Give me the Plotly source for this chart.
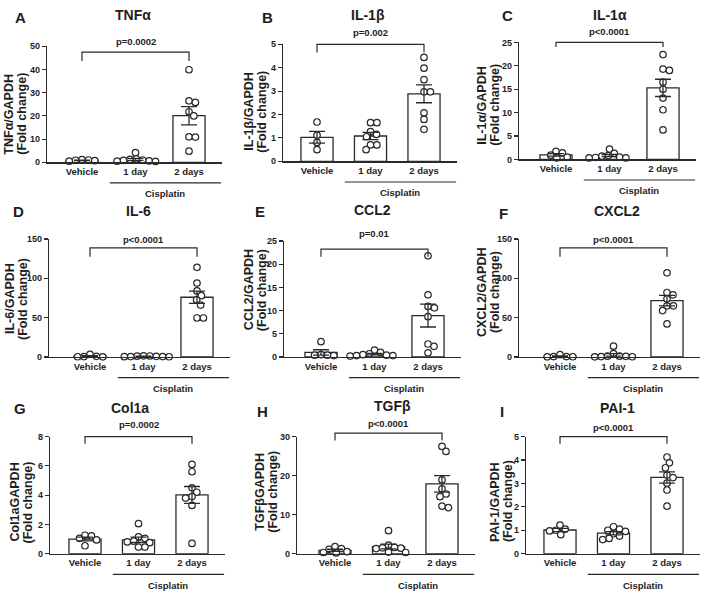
import numpy as np
import plotly.graph_objects as go

W, H = 705, 597

# ---------------- data ----------------
categories = ["Vehicle", "1 day", "2 days"]
group_label = "Cisplatin"

panel_letters = ["A", "B", "C", "D", "E", "F", "G", "H", "I"]
panel_titles = ["TNFα", "IL-1β", "IL-1α", "IL-6", "CCL2", "CXCL2", "Col1a", "TGFβ", "PAI-1"]
y_titles = ["TNFα/GAPDH", "IL-1β/GAPDH", "IL-1α/GAPDH", "IL-6/GAPDH", "CCL2/GAPDH",
            "CXCL2/GAPDH", "Col1aGAPDH", "TGFβGAPDH", "PAI-1/GAPDH"]
y_title_line2 = "(Fold change)"
p_values = ["p=0.0002", "p=0.002", "p<0.0001", "p<0.0001", "p=0.01", "p<0.0001",
            "p=0.0002", "p<0.0001", "p<0.0001"]
y_max = [50, 5, 25, 150, 25, 150, 8, 30, 5]
y_step = [10, 1, 5, 50, 5, 50, 2, 10, 1]

tnfa_vehicle = [1.2, 1.0, 0.9, 0.7, 0.5]
tnfa_1day = [4.2, 1.5, 1.3, 1.0, 0.8, 0.6, 0.5, 0.4]
tnfa_2days = [39.9, 26.5, 25.8, 21.8, 20.0, 11.0, 10.9, 4.8]

il1b_vehicle = [1.68, 1.12, 0.81, 0.50]
il1b_1day = [1.65, 1.65, 1.27, 1.15, 1.05, 0.70, 0.70, 0.50]
il1b_2days = [4.44, 3.98, 3.49, 2.97, 2.97, 2.07, 1.79, 1.37]

il1a_vehicle = [1.7, 1.4, 0.9, 0.5, 0.3]
il1a_1day = [2.2, 1.3, 0.8, 0.7, 0.5, 0.4, 0.3, 0.3]
il1a_2days = [22.4, 19.3, 19.0, 16.5, 15.0, 13.1, 10.6, 6.3]

il6_vehicle = [3.4, 0.8, 0.5, 0.3, 0.2]
il6_1day = [1.5, 1.3, 1.0, 0.8, 0.6, 0.5, 0.4, 0.3]
il6_2days = [114, 94, 84, 78, 72.5, 66, 49.6, 49.6]

ccl2_vehicle = [3.3, 0.5, 0.4, 0.4, 0.3]
ccl2_1day = [1.5, 1.0, 0.7, 0.5, 0.4, 0.3, 0.3, 0.2]
ccl2_2days = [21.8, 13.4, 10.9, 10.6, 8.7, 2.8, 2.3, 0.9]

cxcl2_vehicle = [2.9, 0.5, 0.5, 0.3, 0.2]
cxcl2_1day = [13.8, 4.2, 1.0, 1.0, 0.8, 0.5, 0.3, 0.2]
cxcl2_2days = [107, 82, 79, 74, 65, 65, 59, 42]

col1a_vehicle = [1.26, 1.21, 1.05, 0.94, 0.54]
col1a_1day = [2.05, 1.15, 1.05, 0.85, 0.80, 0.75, 0.45, 0.45]
col1a_2days = [6.1, 5.6, 4.5, 4.2, 3.9, 3.8, 3.3, 0.7]

tgfb_vehicle = [1.8, 1.3, 1.1, 0.5, 0.3, 0.2]
tgfb_1day = [5.9, 2.2, 1.6, 1.5, 1.4, 1.3, 0.4, 0.3]
tgfb_2days = [27.5, 26.2, 18.9, 16.6, 15.3, 14.6, 12.2, 11.8]

pai1_vehicle = [1.22, 1.05, 1.0, 0.97, 0.81]
pai1_1day = [1.15, 1.05, 1.0, 0.95, 0.85, 0.75, 0.65, 0.6]
pai1_2days = [4.13, 3.88, 3.67, 3.36, 3.25, 3.01, 2.72, 2.03]

panel_data = [
    [tnfa_vehicle, tnfa_1day, tnfa_2days],
    [il1b_vehicle, il1b_1day, il1b_2days],
    [il1a_vehicle, il1a_1day, il1a_2days],
    [il6_vehicle, il6_1day, il6_2days],
    [ccl2_vehicle, ccl2_1day, ccl2_2days],
    [cxcl2_vehicle, cxcl2_1day, cxcl2_2days],
    [col1a_vehicle, col1a_1day, col1a_2days],
    [tgfb_vehicle, tgfb_1day, tgfb_2days],
    [pai1_vehicle, pai1_1day, pai1_2days],
]

# ---------------- layout (pixel geometry) ----------------
# (y-axis x, vehicle centre x, top of y-axis, zero line y)
geom = [
    (47, 82, 42, 160), (283, 317, 40, 159), (519, 556, 38, 157),
    (49, 90, 238, 358), (284, 321, 240, 358), (519, 560, 238, 358),
    (50, 85, 439, 558), (297, 335, 439, 558), (526, 560, 439, 558),
]
SP = 53.5          # px between categories
X_END = 2.62       # x-axis end in category units
bracket_frac = [(0.95, 0.873), (1.0, 0.93), (1.0, 0.96), (0.925, 0.85), (0.93, 0.864),
                (0.925, 0.85), (1.0, 0.94), (1.03, 0.966), (1.0, 0.94)]
p_gap = [11, 12, 11, 9, 16, 9, 12.6, 10, 9]
letter_pos = [(20, 13), (267, 13), (507, 11), (18, 210), (260, 210), (503, 212),
              (20, 410), (262, 413), (502, 413)]
title_pos = [(133, 10), (368, 10), (610, 10), (138, 210), (372, 208), (617, 210),
             (130, 410), (392, 408), (617, 410)]
ytitle_pos = [(16, 111), (256, 109), (489, 102), (16.5, 299), (255.5, 290), (488.5, 292),
              (21.5, 506), (266.5, 495), (501, 505)]

FONT = "Arial, 'Liberation Sans', sans-serif"
INK = "#1e1e1e"
LINE = "#2a2a2a"


def px2paper_x(px):
    return px / W


def px2paper_y(py):
    return (H - py) / H


def swarm(vals, ppu, diam=6.4, step=0.4):
    """Deterministic beeswarm offsets in px."""
    placed = []
    offs = [0.0] * len(vals)
    for i in sorted(range(len(vals)), key=lambda k: -vals[k]):
        y = vals[i] * ppu
        k = 0
        while True:
            cands = [0.0] if k == 0 else [k * step, -k * step]
            got = None
            for c in cands:
                if all((c - a) ** 2 + (y - b) ** 2 >= diam ** 2 for a, b in placed):
                    got = c
                    break
            if got is not None:
                break
            k += 1
        placed.append((got, y))
        offs[i] = got
    return offs


fig = go.Figure()
annotations = []
shapes = []
layout_axes = {}

for i in range(9):
    x0, xv, ytop, y0 = geom[i]
    ymax = y_max[i]
    ppu = (y0 - ytop) / ymax
    xl = -(xv - x0) / SP
    xend_px = xv + X_END * SP
    xa = "x" if i == 0 else f"x{i+1}"
    ya = "y" if i == 0 else f"y{i+1}"
    xname = "xaxis" if i == 0 else f"xaxis{i+1}"
    yname = "yaxis" if i == 0 else f"yaxis{i+1}"

    groups = panel_data[i]
    means = [float(np.mean(g)) for g in groups]
    sems = [float(np.std(g, ddof=1) / np.sqrt(len(g))) for g in groups]

    fig.add_trace(go.Bar(
        x=[0, 1, 2], y=means, width=0.6, xaxis=xa, yaxis=ya,
        marker=dict(color="white", line=dict(color=LINE, width=1.3)),
        showlegend=False, hoverinfo="skip"))

    for gi, g in enumerate(groups):
        offs = swarm(g, ppu)
        xs = [gi + o / SP for o in offs]
        fig.add_trace(go.Scatter(
            x=xs, y=g, mode="markers", xaxis=xa, yaxis=ya, cliponaxis=False,
            marker=dict(symbol="circle", size=6.5, color="white",
                        line=dict(color=LINE, width=1.2)),
            showlegend=False, hoverinfo="skip"))

    fig.add_trace(go.Scatter(
        x=[0, 1, 2], y=means, mode="markers", xaxis=xa, yaxis=ya, cliponaxis=False,
        marker=dict(size=1, color="rgba(0,0,0,0)"),
        error_y=dict(type="data", array=sems, visible=True, color=LINE,
                     thickness=1.3, width=8),
        showlegend=False, hoverinfo="skip"))

    layout_axes[xname] = dict(
        domain=[px2paper_x(x0), px2paper_x(xend_px)], anchor=ya,
        range=[xl, X_END], tickvals=[0, 1, 2], ticktext=categories,
        ticks="", showline=True, linecolor=LINE, linewidth=1.2,
        showgrid=False, zeroline=False,
        tickfont=dict(family=FONT, size=9.5, color=INK, weight="bold"))
    layout_axes[yname] = dict(
        domain=[px2paper_y(y0), px2paper_y(ytop)], anchor=xa,
        range=[0, ymax], tickvals=list(np.arange(0, ymax + y_step[i] / 2, y_step[i])),
        ticks="outside", ticklen=4, tickwidth=1.1, tickcolor=LINE,
        showline=True, linecolor=LINE, linewidth=1.2,
        showgrid=False, zeroline=False,
        tickfont=dict(family=FONT, size=9, color=INK, weight="bold"))

    def cx(c):
        return px2paper_x(xv + c * SP)

    def cy(frac):
        return px2paper_y(y0 - frac * (y0 - ytop))

    # significance bracket
    bf, tf = bracket_frac[i]
    shapes.append(dict(
        type="path", xref="paper", yref="paper",
        path=f"M {cx(0)} {cy(tf)} L {cx(0)} {cy(bf)} L {cx(2)} {cy(bf)} L {cx(2)} {cy(tf)}",
        line=dict(color=LINE, width=1.2)))
    br_px = y0 - bf * (y0 - ytop)
    annotations.append(dict(
        x=cx(1), y=px2paper_y(br_px - p_gap[i]), xref="paper", yref="paper",
        text=p_values[i], showarrow=False, xanchor="center", yanchor="middle",
        font=dict(family=FONT, size=9.5, color=INK, weight="bold")))

    # cisplatin group line + label
    shapes.append(dict(
        type="line", xref="paper", yref="paper",
        x0=cx(0.52), x1=cx(2.6), y0=px2paper_y(y0 + 21), y1=px2paper_y(y0 + 21),
        line=dict(color=LINE, width=1.2)))
    annotations.append(dict(
        x=cx(1.56), y=px2paper_y(y0 + 32), xref="paper", yref="paper",
        text=group_label, showarrow=False, xanchor="center", yanchor="middle",
        font=dict(family=FONT, size=9.5, color=INK, weight="bold")))

    # panel letter and title
    lx, ly = letter_pos[i]
    annotations.append(dict(
        x=px2paper_x(lx), y=px2paper_y(ly), xref="paper", yref="paper",
        text=panel_letters[i], showarrow=False, xanchor="center", yanchor="middle",
        font=dict(family=FONT, size=15, color=INK, weight="bold")))
    tx, ty = title_pos[i]
    annotations.append(dict(
        x=px2paper_x(tx), y=px2paper_y(ty), xref="paper", yref="paper",
        text=panel_titles[i], showarrow=False, xanchor="center", yanchor="middle",
        font=dict(family=FONT, size=14, color=INK, weight="bold")))

    # y-axis title (two lines)
    ax_, ay_ = ytitle_pos[i]
    for dx, txt in ((-6.5, y_titles[i]), (6.5, y_title_line2)):
        annotations.append(dict(
            x=px2paper_x(ax_ + dx), y=px2paper_y(ay_), xref="paper", yref="paper",
            text=txt, showarrow=False, textangle=-90,
            xanchor="center", yanchor="middle",
            font=dict(family=FONT, size=12.5, color=INK, weight="bold")))

fig.update_layout(
    width=W, height=H, margin=dict(l=0, r=0, t=0, b=0),
    paper_bgcolor="white", plot_bgcolor="white",
    showlegend=False, bargap=0, annotations=annotations, shapes=shapes,
    **layout_axes)

fig.write_html("out.html",
               config=dict(displayModeBar=False, staticPlot=True),
               post_script="document.body.style.margin='0';document.body.style.overflow='hidden';")
